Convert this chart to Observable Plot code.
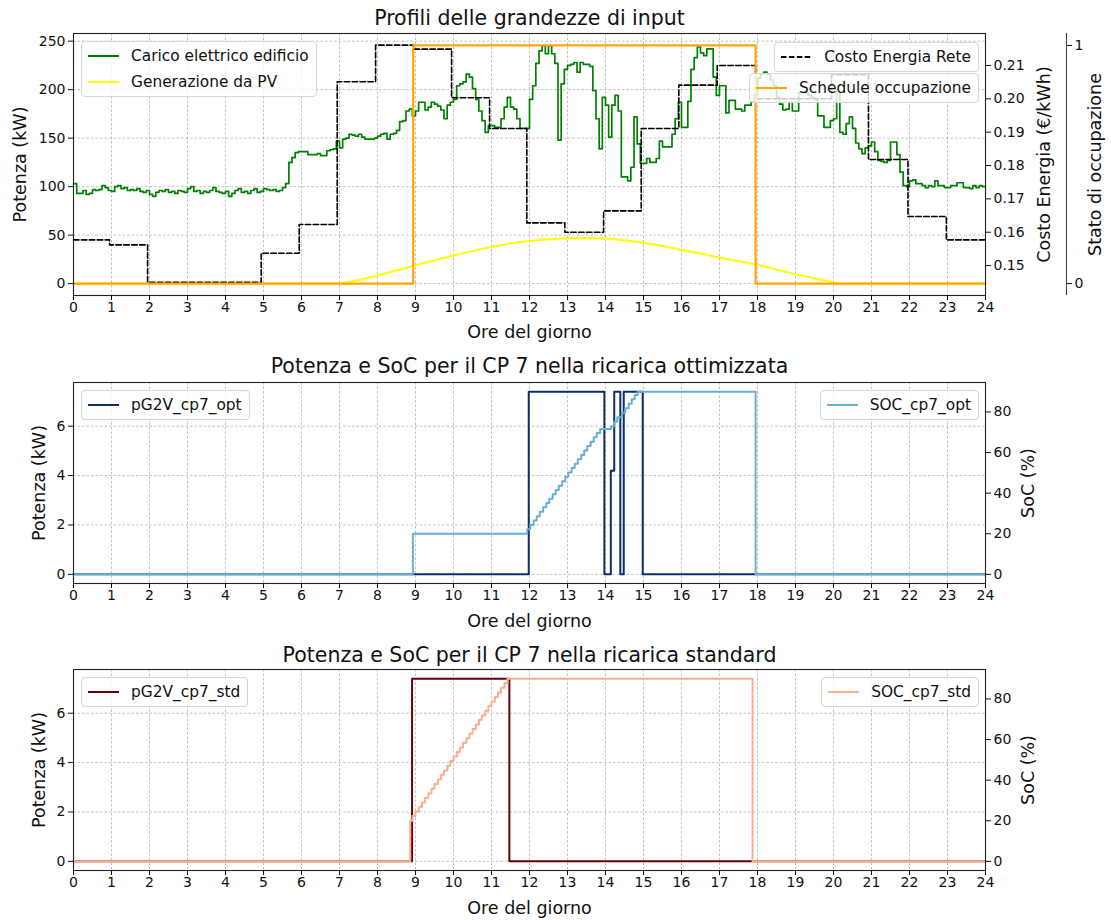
<!DOCTYPE html>
<html>
<head>
<meta charset="utf-8">
<script src="https://cdn.jsdelivr.net/npm/d3@7"></script>
<script src="https://cdn.jsdelivr.net/npm/@observablehq/plot@0.6"></script>
<style>
  body { margin: 0; background: #fff; font-family: "DejaVu Sans", sans-serif; }
  #wrap { position: relative; width: 1111px; height: 920px; overflow: hidden; }
  .panel { position: absolute; left: 0; }
  .legend { position: absolute; background: rgba(255,255,255,0.8); border: 1px solid #d6d6d6;
            border-radius: 4px; font: 15.4px "DejaVu Sans", sans-serif; color: #111; padding: 1px 7px 1px 6px; }
  .legend .row { display: flex; align-items: center; height: 26px; white-space: nowrap; }
  .legend svg { margin-right: 12px; flex: none; }
</style>
</head>
<body>
<div id="wrap"></div>
<script>
// ---------------- DATA ----------------
const xTicks = [0,1,2,3,4,5,6,7,8,9,10,11,12,13,14,15,16,17,18,19,20,21,22,23,24];
const loadTicks = [0, 50, 100, 150, 200, 250];
const costTicks = [0.15, 0.16, 0.17, 0.18, 0.19, 0.20, 0.21];
const occTicks = [0, 1];
const powerTicks = [0, 2, 4, 6];
const socTicks = [0, 20, 40, 60, 80];

// Building load, one value every 5 minutes (12 per hour)
const loadStepMinutes = 5;
const loadKW = [
  103, 93, 93, 96, 92, 93, 97, 96, 97, 101, 99, 96,
  95, 100, 101, 98, 99, 96, 97, 96, 98, 95, 94, 96,
  92, 90, 94, 96, 95, 97, 94, 95, 93, 96, 95, 94,
  98, 100, 95, 96, 93, 95, 94, 96, 99, 95, 94, 93,
  95, 90, 93, 96, 98, 94, 95, 93, 96, 98, 94, 95,
  98, 97, 96, 97, 95, 96, 99, 103, 125, 130, 135, 136,
  136, 136, 133, 133, 133, 134, 132, 132, 137, 138, 139, 147,
  140, 149, 150, 154, 153, 152, 154, 151, 149, 149, 149, 150,
  152, 154, 155, 149, 154, 155, 158, 167, 168, 178, 180, 173,
  178, 187, 187, 179, 182, 187, 185, 183, 179, 170, 184, 187,
  190, 204, 206, 208, 216, 213, 201, 190, 178, 168, 156, 163,
  163, 161, 161, 170, 182, 192, 182, 180, 170, 160, 160, 160,
  190, 204, 227, 240, 245, 237, 245, 237, 227, 148, 206, 221,
  225, 226, 228, 218, 228, 226, 226, 224, 199, 170, 139, 192,
  184, 151, 184, 194, 178, 110, 110, 106, 120, 172, 144, 124,
  124, 129, 125, 125, 129, 147, 141, 141, 141, 154, 170, 187,
  161, 161, 188, 221, 233, 244, 238, 235, 242, 242, 213, 194,
  204, 204, 176, 189, 189, 180, 180, 178, 184, 184, 187, 194,
  212, 216, 218, 216, 210, 204, 192, 185, 179, 180, 187, 178,
  178, 197, 197, 197, 194, 192, 190, 173, 173, 161, 161, 168,
  170, 199, 156, 154, 165, 172, 160, 145, 139, 134, 140, 142,
  146, 136, 127, 126, 125, 127, 146, 146, 133, 115, 101, 100,
  106, 107, 103, 103, 101, 99, 101, 100, 106, 101, 101, 99,
  99, 101, 101, 104, 104, 99, 99, 98, 101, 99, 101, 100
];

// PV generation
const pvHours = [0, 7.0, 7.5, 8.0, 8.5, 9.0, 9.5, 10.0, 10.5, 11.0, 11.5, 12.0, 12.5, 13.0, 13.5,
                 14.0, 14.5, 15.0, 15.5, 16.0, 16.5, 17.0, 17.5, 18.0, 18.5, 19.0, 19.5, 20.0, 20.1, 24];
const pvKW    = [0, 0, 3.5, 8.3, 13.5, 19, 24, 29, 33.5, 38, 41.5, 44, 45.8, 46.8, 47.1,
                 46.6, 44.8, 42, 38.8, 35, 31, 27, 23, 19.5, 14.5, 9.5, 5.5, 1.5, 0, 0];

// Grid energy cost (step changes)
const costHours = [0, 0.95, 1.95, 4.94, 5.94, 6.94, 7.95, 8.95, 9.95, 10.95, 11.93, 12.93, 13.95,
                   14.94, 15.93, 16.94, 17.95, 18.95, 19.95, 20.92, 21.96, 22.97, 24];
const costEUR   = [0.1577, 0.1562, 0.1450, 0.1537, 0.1623, 0.2051, 0.2161, 0.2149, 0.2003, 0.1911, 0.1628,
                   0.1600, 0.1664, 0.1911, 0.2041, 0.2100, 0.2000, 0.2000, 0.2072, 0.1818, 0.1647, 0.1577, 0.1577];

// Occupancy schedule
const occHours = [0, 8.94, 17.95, 24];
const occState = [0, 1, 0, 0];

// CP 7 optimised charging
const optPowerHours = [0, 11.98, 13.97, 14.14, 14.23, 14.39, 14.48, 14.98, 24];
const optPowerKW    = [0, 7.4, 0, 4.2, 7.4, 0, 7.4, 0, 0];
const optSocHours = [0, 8.93, 11.94, 12.02, 12.11, 12.19, 12.27, 12.36, 12.44, 12.52, 12.61, 12.69, 12.77,
                     12.86, 12.94, 13.02, 13.11, 13.19, 13.27, 13.36, 13.44, 13.52, 13.61, 13.69, 13.77,
                     13.86, 14.15, 14.23, 14.31, 14.44, 14.52, 14.61, 14.69, 14.77, 14.85, 17.95, 24];
const optSocPct   = [0, 20, 22.2, 24.3, 26.5, 28.6, 30.8, 33.0, 35.1, 37.3, 39.4, 41.6, 43.7,
                     45.9, 48.1, 50.2, 52.4, 54.5, 56.7, 58.8, 61.0, 63.2, 65.3, 67.5, 69.6,
                     71.6, 72.9, 75.2, 77.4, 79.6, 81.8, 84.0, 86.2, 88.4, 90, 0, 0];

// CP 7 standard charging
const stdPowerHours = [0, 8.91, 11.47, 24];
const stdPowerKW    = [0, 7.4, 0, 0];
const stdSocHours = [0, 8.86, 8.92, 9.0, 9.09, 9.17, 9.25, 9.34, 9.42, 9.5, 9.59, 9.67, 9.75, 9.84, 9.92,
                     10.0, 10.09, 10.17, 10.25, 10.34, 10.42, 10.5, 10.59, 10.67, 10.75, 10.84, 10.92,
                     11.0, 11.09, 11.17, 11.25, 11.34, 11.42, 17.87, 24];
const stdSocPct   = [0, 20, 22.3, 24.5, 26.8, 29.0, 31.3, 33.5, 35.8, 38.1, 40.3, 42.6, 44.8, 47.1, 49.4,
                     51.6, 53.9, 56.1, 58.4, 60.6, 62.9, 65.2, 67.4, 69.7, 71.9, 74.2, 76.5,
                     78.7, 81.0, 83.2, 85.5, 87.7, 90.0, 0, 0];

// ---------------- HELPERS ----------------
const FONT = '"DejaVu Sans", sans-serif';
const zip = (xs, ys) => xs.map((h, i) => ({h, v: ys[i]}));
const loadRows = loadKW.map((v, i) => ({h: i * loadStepMinutes / 60, v}))
  .concat([{h: 24, v: loadKW[loadKW.length - 1]}]);
const pvRows = zip(pvHours, pvKW);
const costRows = zip(costHours, costEUR);
const occRows = zip(occHours, occState);

// secondary axes expressed on the primary scale
const LOAD_DOMAIN = [-12.28, 257.9];
const costToLoad = d3.scaleLinear().domain([0.15, 0.21]).range([18.57, 224.93]);
const occToLoad = d3.scaleLinear().domain([0, 1]).range([0, 245.6]);
const P_DOMAIN = [-0.37, 7.77];
const socToKW = d3.scaleLinear().domain([0, 90]).range([0, 7.4]);

const gridStyle = {stroke: "#8a8a8a", strokeOpacity: 0.75, strokeWidth: 0.7, strokeDasharray: "2.5,2"};
const tickFont = 14;

function texts(o) {
  const m = [];
  m.push(Plot.text([o.title], {text: d => d, frameAnchor: "top", dy: o.titleDy, fontSize: 20.5, lineAnchor: "middle", fill: "#111"}));
  m.push(Plot.text([o.xlabel], {text: d => d, frameAnchor: "bottom", dy: o.xlabelDy, fontSize: 17.5, lineAnchor: "middle", fill: "#111"}));
  m.push(Plot.text([o.ylabel], {text: d => d, frameAnchor: "left", dx: o.ylabelDx, rotate: -90, textAnchor: "middle", lineAnchor: "middle", fontSize: 17.5, fill: "#111"}));
  for (const r of o.right) {
    m.push(Plot.text([r.text], {text: d => d, frameAnchor: "right", dx: r.dx, rotate: -90, textAnchor: "middle", lineAnchor: "middle", fontSize: 17.5, fill: "#111"}));
  }
  return m;
}

const wrap = document.getElementById("wrap");
function place(svg, top) {
  svg.classList.add("panel");
  svg.style.top = top + "px";
  wrap.appendChild(svg);
}

function legend(pos, items) {
  const div = document.createElement("div");
  div.className = "legend";
  Object.assign(div.style, pos);
  for (const it of items) {
    const row = document.createElement("div");
    row.className = "row";
    row.innerHTML = `<svg width="31" height="10"><line x1="0" y1="5" x2="31" y2="5" stroke="${it.color}" stroke-width="${it.width || 2}" ${it.dash ? `stroke-dasharray="${it.dash}"` : ""}/></svg><span>${it.label}</span>`;
    div.appendChild(row);
  }
  wrap.appendChild(div);
}

// ---------------- PANEL 1 ----------------
const p1 = Plot.plot({
  width: 1111, height: 352,
  marginLeft: 73, marginRight: 126, marginTop: 33, marginBottom: 57,
  style: {fontFamily: FONT, fontSize: tickFont + "px", background: "transparent", color: "#111", overflow: "visible"},
  x: {domain: [0, 24]},
  y: {domain: LOAD_DOMAIN},
  marks: [
    Plot.gridX(xTicks, gridStyle),
    Plot.gridY(loadTicks, gridStyle),
    Plot.line(loadRows, {x: "h", y: "v", curve: "step-after", stroke: "#008000", strokeWidth: 1.7}),
    Plot.line(pvRows, {x: "h", y: "v", stroke: "#ffff00", strokeWidth: 2}),
    Plot.line(costRows, {x: "h", y: d => costToLoad(d.v), curve: "step-after", stroke: "#000", strokeWidth: 1.6, strokeDasharray: "5.5,2.4"}),
    Plot.line(occRows, {x: "h", y: d => occToLoad(d.v), curve: "step-after", stroke: "#ffa500", strokeWidth: 2.2}),
    Plot.frame({stroke: "#222", strokeWidth: 1.1}),
    Plot.axisX({ticks: xTicks, tickSize: 5, tickPadding: 2, label: null, tickFormat: d => String(d)}),
    Plot.axisY({ticks: loadTicks, tickSize: 5, tickPadding: 3, label: null, tickFormat: d => String(d)}),
    Plot.axisY({anchor: "right", ticks: costTicks.map(c => costToLoad(c)), tickSize: 5, tickPadding: 3, label: null,
                tickFormat: d => costToLoad.invert(d).toFixed(2)}),
    Plot.ruleX([24], {y1: LOAD_DOMAIN[0], y2: LOAD_DOMAIN[1], dx: 81, stroke: "#444", strokeWidth: 1.1}),
    Plot.axisY({anchor: "right", ticks: occTicks.map(o => occToLoad(o)), dx: 81, tickSize: 5, tickPadding: 3, label: null,
                tickFormat: d => String(Math.round(occToLoad.invert(d)))}),
    ...texts({title: "Profili delle grandezze di input", titleDy: -15, xlabel: "Ore del giorno", xlabelDy: 37,
              ylabel: "Potenza (kW)", ylabelDx: -53,
              right: [{text: "Costo Energia (€/kWh)", dx: 59}, {text: "Stato di occupazione", dx: 110}]})
  ]
});
place(p1, 0);

// ---------------- PANELS 2 & 3 ----------------
function cpPanel(o) {
  const powerRows = zip(o.powerHours, o.powerKW);
  const socRows = zip(o.socHours, o.socPct);
  return Plot.plot({
    width: 1111, height: o.height,
    marginLeft: 73, marginRight: 126, marginTop: o.marginTop, marginBottom: o.marginBottom,
    style: {fontFamily: FONT, fontSize: tickFont + "px", background: "transparent", color: "#111", overflow: "visible"},
    x: {domain: [0, 24]},
    y: {domain: P_DOMAIN},
    marks: [
      Plot.gridX(xTicks, gridStyle),
      Plot.gridY(powerTicks, gridStyle),
      Plot.line(powerRows, {x: "h", y: "v", curve: "step-after", stroke: o.powerColor, strokeWidth: 2}),
      Plot.line(socRows, {x: "h", y: d => socToKW(d.v), curve: "step-after", stroke: o.socColor, strokeWidth: 2}),
      Plot.frame({stroke: "#222", strokeWidth: 1.1}),
      Plot.axisX({ticks: xTicks, tickSize: 5, tickPadding: 2, label: null, tickFormat: d => String(d)}),
      Plot.axisY({ticks: powerTicks, tickSize: 5, tickPadding: 3, label: null, tickFormat: d => String(d)}),
      Plot.axisY({anchor: "right", ticks: socTicks.map(s => socToKW(s)), tickSize: 5, tickPadding: 3, label: null,
                  tickFormat: d => String(Math.round(socToKW.invert(d)))}),
      ...texts({title: o.title, titleDy: o.titleDy, xlabel: "Ore del giorno", xlabelDy: 38,
                ylabel: "Potenza (kW)", ylabelDx: -34, right: [{text: "SoC (%)", dx: 43}]})
    ]
  });
}

const p2 = cpPanel({
  title: "Potenza e SoC per il CP 7 nella ricarica ottimizzata", titleDy: -16,
  height: 300, marginTop: 42, marginBottom: 57,
  powerHours: optPowerHours, powerKW: optPowerKW, socHours: optSocHours, socPct: optSocPct,
  powerColor: "#0b2f6b", socColor: "#6aaed6"
});
place(p2, 340);

const p3 = cpPanel({
  title: "Potenza e SoC per il CP 7 nella ricarica standard", titleDy: -14,
  height: 290, marginTop: 39, marginBottom: 50,
  powerHours: stdPowerHours, powerKW: stdPowerKW, socHours: stdSocHours, socPct: stdSocPct,
  powerColor: "#67000d", socColor: "#fcae91"
});
place(p3, 630);

// ---------------- LEGENDS ----------------
legend({left: "81px", top: "41px"}, [
  {label: "Carico elettrico edificio", color: "#008000"},
  {label: "Generazione da PV", color: "#ffff00"}
]);
legend({right: "132px", top: "42px"}, [
  {label: "Costo Energia Rete", color: "#000", dash: "5.5,2.4"}
]);
legend({right: "132px", top: "73px"}, [
  {label: "Schedule occupazione", color: "#ffa500"}
]);
legend({left: "81px", top: "390px"}, [{label: "pG2V_cp7_opt", color: "#0b2f6b"}]);
legend({right: "132px", top: "390px"}, [{label: "SOC_cp7_opt", color: "#6aaed6"}]);
legend({left: "81px", top: "677px"}, [{label: "pG2V_cp7_std", color: "#67000d"}]);
legend({right: "132px", top: "677px"}, [{label: "SOC_cp7_std", color: "#fcae91"}]);
</script>
</body>
</html>
